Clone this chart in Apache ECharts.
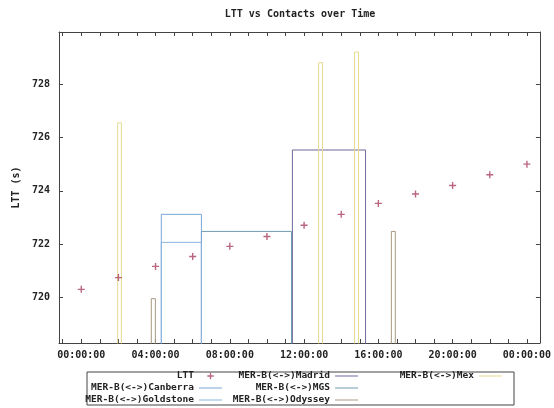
<!DOCTYPE html>
<html>
<head>
<meta charset="utf-8">
<title>LTT vs Contacts over Time</title>
<script src="https://cdn.jsdelivr.net/npm/echarts@6/dist/echarts.min.js"></script>
<style>
  html, body { margin: 0; padding: 0; background: #fff; }
  #chart { width: 554px; height: 408px; }
</style>
</head>
<body>
<div id="chart"></div>
<script>
// LTT samples, hours since midnight
const lttHours = [0, 2, 4, 6, 8, 10, 12, 14, 16, 18, 20, 22, 24];
const lttValues = [720.31, 720.75, 721.17, 721.54, 721.92, 722.29, 722.71, 723.12, 723.53, 723.88, 724.2, 724.6, 725.0];

// contact windows (start hour, end hour, level)
const canberraStart = [4.31], canberraEnd = [6.47], canberraLevel = [723.12];
const goldstoneStart = [4.31], goldstoneEnd = [6.47], goldstoneLevel = [722.07];
const madridStart = [11.37], madridEnd = [15.31], madridLevel = [725.53];
const mgsStart = [6.47], mgsEnd = [11.32], mgsLevel = [722.48];
const odysseyStart = [3.77, 16.7], odysseyEnd = [3.99, 16.91], odysseyLevel = [719.96, 722.48];
const mexStart = [1.96, 12.78, 14.72], mexEnd = [2.16, 12.99, 14.93], mexLevel = [726.55, 728.8, 729.2];

const xLabelHours = [0, 4, 8, 12, 16, 20, 24];
const xTickHours = [-1, 0, 1, 2, 3, 4, 5, 6, 7, 8, 9, 10, 11, 12, 13, 14, 15, 16, 17, 18, 19, 20, 21, 22, 23, 24];
const yTicks = [720, 722, 724, 726, 728];

const FLOOR = 717; // boxes start below the visible range
const font = 'DejaVu Sans Mono';
const plusPath = 'path://M4,0H6V4H10V6H6V10H4V6H0V4H4Z';
const plusLegend = 'path://M-2,-2M12,12M4,0H6V4H10V6H6V10H4V6H0V4H4Z';
const lineIcon = 'path://M0,0H23V1H0Z';

function outline(starts, ends, levels) {
  const pts = [];
  starts.forEach((s, i) => {
    pts.push([s, FLOOR], [s, levels[i]], [ends[i], levels[i]], [ends[i], FLOOR], [ends[i], null]);
  });
  return pts;
}

function boxSeries(name, color, starts, ends, levels) {
  return {
    name: name,
    type: 'line',
    data: outline(starts, ends, levels),
    symbol: 'none',
    connectNulls: false,
    clip: true,
    lineStyle: { color: color, width: 1 },
    itemStyle: { color: color },
    animation: false
  };
}

function fmtHour(h) {
  const hh = String(h % 24).padStart(2, '0');
  return hh + ':00:00';
}

const axisColor = '#444';
const labelStyle = { fontFamily: font, fontWeight: 'bold', fontSize: 10, color: '#222' };
const legendText = { fontFamily: font, fontWeight: 'bold', fontSize: 9.5, color: '#222', lineHeight: 9 };
const tickStyle = (vals) => ({ show: true, inside: true, length: 4, customValues: vals, lineStyle: { color: axisColor } });
const lineStyle = { show: true, onZero: false, lineStyle: { color: axisColor } };

const chart = echarts.init(document.getElementById('chart'));

const option = {
  backgroundColor: '#fff',
  animation: false,
  title: {
    text: 'LTT vs Contacts over Time',
    left: 300,
    top: 9,
    textAlign: 'center',
    padding: 0,
    textStyle: { fontFamily: font, fontWeight: 'bold', fontSize: 10, color: '#222' }
  },
  grid: { left: 59, right: 13, top: 32, bottom: 65 },
  xAxis: [
    {
      type: 'value', min: -1.2, max: 24.7, position: 'bottom',
      axisLine: lineStyle,
      axisTick: tickStyle(xTickHours),
      axisLabel: { customValues: xLabelHours, formatter: fmtHour, margin: 7, ...labelStyle },
      splitLine: { show: false }
    },
    {
      type: 'value', min: -1.2, max: 24.7, position: 'top',
      axisLine: lineStyle,
      axisTick: tickStyle(xTickHours),
      axisLabel: { show: false },
      splitLine: { show: false }
    }
  ],
  yAxis: [
    {
      type: 'value', min: 718.3, max: 729.95, position: 'left',
      name: 'LTT (s)', nameLocation: 'middle', nameGap: 38, nameRotate: 90,
      nameTextStyle: { fontFamily: font, fontWeight: 'bold', fontSize: 10, color: '#222' },
      axisLine: lineStyle,
      axisTick: tickStyle(yTicks),
      axisLabel: { customValues: yTicks, margin: 9, ...labelStyle },
      splitLine: { show: false }
    },
    {
      type: 'value', min: 718.3, max: 729.95, position: 'right',
      axisLine: lineStyle,
      axisTick: tickStyle(yTicks),
      axisLabel: { show: false },
      splitLine: { show: false }
    }
  ],
  legend: [
    {
      data: [
        { name: 'LTT', icon: plusLegend },
        { name: 'MER-B(<->)Canberra', icon: lineIcon },
        { name: 'MER-B(<->)Goldstone', icon: lineIcon }
      ],
      orient: 'vertical', align: 'right', right: 332, top: 371, padding: 0,
      itemWidth: 23, itemHeight: 9, itemGap: 2, selectedMode: false, textStyle: legendText
    },
    {
      data: [
        { name: 'MER-B(<->)Madrid', icon: lineIcon },
        { name: 'MER-B(<->)MGS', icon: lineIcon },
        { name: 'MER-B(<->)Odyssey', icon: lineIcon }
      ],
      orient: 'vertical', align: 'right', right: 196, top: 371, padding: 0,
      itemWidth: 23, itemHeight: 9, itemGap: 2, selectedMode: false, textStyle: legendText
    },
    {
      data: [{ name: 'MER-B(<->)Mex', icon: lineIcon }],
      orient: 'vertical', align: 'right', right: 52, top: 371, padding: 0,
      itemWidth: 23, itemHeight: 9, itemGap: 2, selectedMode: false, textStyle: legendText
    }
  ],
  graphic: [
    {
      type: 'rect', silent: true,
      shape: { x: 87, y: 372, width: 427, height: 33 },
      style: { fill: 'none', stroke: axisColor, lineWidth: 1 }
    }
  ],
  series: [
    boxSeries('MER-B(<->)Madrid', '#6e6a9a', madridStart, madridEnd, madridLevel),
    boxSeries('MER-B(<->)MGS', '#6f9cb0', mgsStart, mgsEnd, mgsLevel),
    boxSeries('MER-B(<->)Canberra', '#7aa6d6', canberraStart, canberraEnd, canberraLevel),
    boxSeries('MER-B(<->)Goldstone', '#8cb4dc', goldstoneStart, goldstoneEnd, goldstoneLevel),
    boxSeries('MER-B(<->)Odyssey', '#a89880', odysseyStart, odysseyEnd, odysseyLevel),
    boxSeries('MER-B(<->)Mex', '#e6da8e', mexStart, mexEnd, mexLevel),
    {
      name: 'LTT',
      type: 'scatter',
      data: lttHours.map((h, i) => [h, lttValues[i]]),
      symbol: plusPath,
      symbolSize: 7,
      itemStyle: { color: '#a8405e' },
      z: 5
    }
  ]
};

chart.setOption(option);
</script>
</body>
</html>
